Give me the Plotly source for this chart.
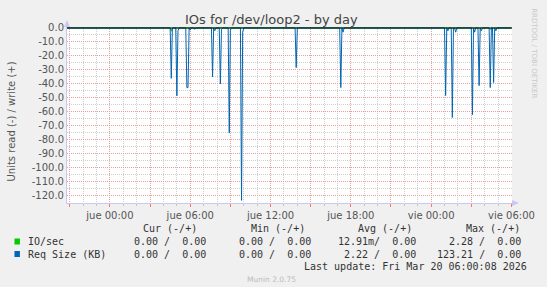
import pandas as pd
import plotly.graph_objects as go

# ---------------- data ----------------
start_time = "2026-03-18 20:40:00"
end_time = "2026-03-20 06:00:00"

spike_times = [
    "2026-03-19 04:35", "2026-03-19 05:00", "2026-03-19 05:05", "2026-03-19 05:45",
    "2026-03-19 05:50", "2026-03-19 06:00", "2026-03-19 06:20", "2026-03-19 07:40",
    "2026-03-19 07:50", "2026-03-19 08:15", "2026-03-19 08:20", "2026-03-19 08:55",
    "2026-03-19 09:00", "2026-03-19 09:50", "2026-03-19 09:55", "2026-03-19 13:55",
    "2026-03-19 17:15", "2026-03-19 17:25", "2026-03-20 01:05", "2026-03-20 01:15",
    "2026-03-20 01:35", "2026-03-20 01:50", "2026-03-20 03:05", "2026-03-20 03:15",
    "2026-03-20 03:35", "2026-03-20 03:45", "2026-03-20 04:25", "2026-03-20 04:40",
    "2026-03-20 04:50",
]
req_size_read = [
    36.0, 48.5, 2.0, 42.6, 42.6, 1.5, 1.0, 35.0, 2.0, 40.0, 1.0, 75.0, 1.5,
    123.21, 3.0, 28.3, 42.6, 3.0, 48.3, 2.0, 64.0, 3.0, 62.0, 3.0, 41.2, 2.0,
    42.6, 39.0, 2.0,
]
io_read = [
    2.28, 0.2, 0.05, 0.15, 0.15, 0.05, 0.05, 0.15, 0.05, 0.15, 0.05, 0.2, 0.05,
    0.2, 0.05, 0.1, 0.15, 0.05, 0.15, 0.05, 0.2, 0.05, 0.2, 0.05, 0.15, 0.05,
    1.0, 0.15, 0.05,
]

x_tick_vals = ["2026-03-19 00:00", "2026-03-19 06:00", "2026-03-19 12:00",
               "2026-03-19 18:00", "2026-03-20 00:00", "2026-03-20 06:00"]
x_tick_text = ["jue 00:00", "jue 06:00", "jue 12:00", "jue 18:00", "vie 00:00", "vie 06:00"]
y_tick_vals = [0, -10, -20, -30, -40, -50, -60, -70, -80, -90, -100, -110, -120]
y_tick_text = ["0.0", "-10.0", "-20.0", "-30.0", "-40.0", "-50.0", "-60.0", "-70.0",
               "-80.0", "-90.0", "-100.0", "-110.0", "-120.0"]

legend_rows = ["IO/sec", "Req Size (KB)"]
legend_colors = ["#00cc00", "#0066b3"]
col_headers = ["Cur (-/+)", "Min (-/+)", "Avg (-/+)", "Max (-/+)"]
col_values = [
    ["0.00 /  0.00", "0.00 /  0.00", "12.91m/  0.00", "2.28 /  0.00"],
    ["0.00 /  0.00", "0.00 /  0.00", "2.22 /  0.00", "123.21 /  0.00"],
]
last_update = "Last update: Fri Mar 20 06:00:08 2026"

# ---------------- series on 5-minute grid ----------------
grid = pd.date_range(start_time, end_time, freq="5min")
req = pd.Series(0.0, index=grid)
io = pd.Series(0.0, index=grid)
for t, v, w in zip(spike_times, req_size_read, io_read):
    req[pd.Timestamp(t)] = -v
    io[pd.Timestamp(t)] = -w

# ---------------- geometry helpers ----------------
W, H = 547, 287
L, R, T, B = 67, 516, 27, 203
PW, PH = R - L, B - T


def px(x):
    return (x - L) / PW


def py(y):
    return (B - y) / PH


fig = go.Figure()
fig.add_trace(go.Scatter(x=io.index, y=io.values, mode="lines",
                         line=dict(color="#00cc00", width=1), hoverinfo="skip"))
fig.add_trace(go.Scatter(x=req.index, y=req.values, mode="lines",
                         line=dict(color="#0066b3", width=1), hoverinfo="skip"))

font_sans = "DejaVu Sans"
font_mono = "DejaVu Sans Mono"

major_vals = list(pd.date_range("2026-03-18 21:00", "2026-03-20 06:00", freq="3h"))
label_map = {pd.Timestamp(v): t for v, t in zip(x_tick_vals, x_tick_text)}
major_text = [label_map.get(v, "") for v in major_vals]
hourly = pd.date_range("2026-03-18 21:00", "2026-03-20 06:00", freq="1h")
minor_vals = [h for h in hourly if h.hour % 3 != 0]

RED = "#e8a0a0"
GRAY = "#d0d0d0"
DOT = "1px,1px"

fig.update_layout(
    width=W, height=H,
    margin=dict(l=L, r=W - R, t=T, b=H - B),
    paper_bgcolor="#f0f0f0", plot_bgcolor="#ffffff",
    showlegend=False,
    font=dict(family=font_sans, size=10, color="#555555"),
    xaxis=dict(
        type="date",
        range=["2026-03-18 20:47:30", "2026-03-20 06:02:30"],
        tickvals=major_vals, ticktext=major_text,
        showgrid=True, gridcolor=RED, griddash=DOT, gridwidth=1,
        ticks="outside", ticklen=3, tickcolor="#ff7070",
        tickfont=dict(family=font_sans, size=10, color="#555555"),
        showline=True, linecolor="#c8c8f0", linewidth=1,
        zeroline=False,
        minor=dict(tickmode="array", tickvals=minor_vals, showgrid=True,
                   gridcolor=GRAY, griddash=DOT, gridwidth=1,
                   ticks="outside", ticklen=2, tickcolor="#c8c8c8"),
        fixedrange=True,
    ),
    yaxis=dict(
        range=[-125.1, 0.7],
        tickvals=y_tick_vals, ticktext=y_tick_text,
        showgrid=True, gridcolor=RED, griddash=DOT, gridwidth=1,
        ticks="", tickfont=dict(family=font_sans, size=10, color="#555555"),
        showline=True, linecolor="#c8c8f0", linewidth=1,
        zeroline=False,
        minor=dict(tickmode="linear", dtick=10, tick0=-5, showgrid=True, gridcolor=GRAY,
                   griddash=DOT, gridwidth=1),
        fixedrange=True,
    ),
)

annotations = []
annotations.append(dict(text="IOs for /dev/loop2 - by day", x=px(273.5), y=py(19),
                        xref="paper", yref="paper", showarrow=False,
                        xanchor="center", yanchor="middle",
                        font=dict(family=font_sans, size=13, color="#444444")))
annotations.append(dict(text="Units read (-) / write (+)", x=px(10), y=py(122),
                        xref="paper", yref="paper", showarrow=False, textangle=-90,
                        xanchor="center", yanchor="middle",
                        font=dict(family=font_sans, size=10, color="#555555")))
annotations.append(dict(text="RRDTOOL / TOBI OETIKER", x=px(538), y=py(53),
                        xref="paper", yref="paper", showarrow=False, textangle=90,
                        xanchor="center", yanchor="middle",
                        font=dict(family=font_sans, size=7, color="#c8c8c8")))

nb = lambda s: s.replace(" ", "\u00a0")
header_right = [200.6, 308.7, 417.5, 526.0]
value_right = [209.0, 315.0, 421.0, 527.0]
mono = dict(family=font_mono, size=10, color="#333333")
for hx, h in zip(header_right, col_headers):
    annotations.append(dict(text=nb(h), x=px(hx), y=py(228), xref="paper", yref="paper",
                            showarrow=False, xanchor="right", yanchor="middle", font=mono))
row_y = [241.5, 254]
for ri, (name, vals) in enumerate(zip(legend_rows, col_values)):
    annotations.append(dict(text=nb(name), x=px(26), y=py(row_y[ri]), xref="paper",
                            yref="paper", showarrow=False, xanchor="left",
                            yanchor="middle", font=mono))
    for vx, v in zip(value_right, vals):
        annotations.append(dict(text=nb(v), x=px(vx), y=py(row_y[ri]), xref="paper",
                                yref="paper", showarrow=False, xanchor="right",
                                yanchor="middle", font=mono))
annotations.append(dict(text=nb(last_update), x=px(533), y=py(266.5), xref="paper",
                        yref="paper", showarrow=False, xanchor="right", yanchor="middle",
                        font=mono))
annotations.append(dict(text="Munin 2.0.75", x=px(273), y=py(279.5), xref="paper",
                        yref="paper", showarrow=False, xanchor="center", yanchor="middle",
                        font=dict(family=font_sans, size=7.5, color="#bbbbbb")))

shapes = []
shapes.append(dict(type="line", xref="paper", yref="y", x0=0, x1=1, y0=0, y1=0,
                   line=dict(color="#000000", width=1), layer="above"))
for ri, c in enumerate(legend_colors):
    shapes.append(dict(type="rect", xref="paper", yref="paper",
                       x0=px(14), x1=px(19.5), y0=py(row_y[ri] + 3), y1=py(row_y[ri] - 3),
                       fillcolor=c, line=dict(width=0)))
shapes.append(dict(type="path", xref="paper", yref="paper",
                   path=f"M {px(64)} {py(27)} L {px(70)} {py(27)} L {px(67)} {py(20)} Z",
                   fillcolor="#c8c8f0", line=dict(width=0)))
shapes.append(dict(type="path", xref="paper", yref="paper",
                   path=f"M {px(516)} {py(200)} L {px(516)} {py(206)} L {px(523)} {py(203)} Z",
                   fillcolor="#c8c8f0", line=dict(width=0)))

fig.update_layout(annotations=annotations, shapes=shapes)
fig.write_html("out.html")
